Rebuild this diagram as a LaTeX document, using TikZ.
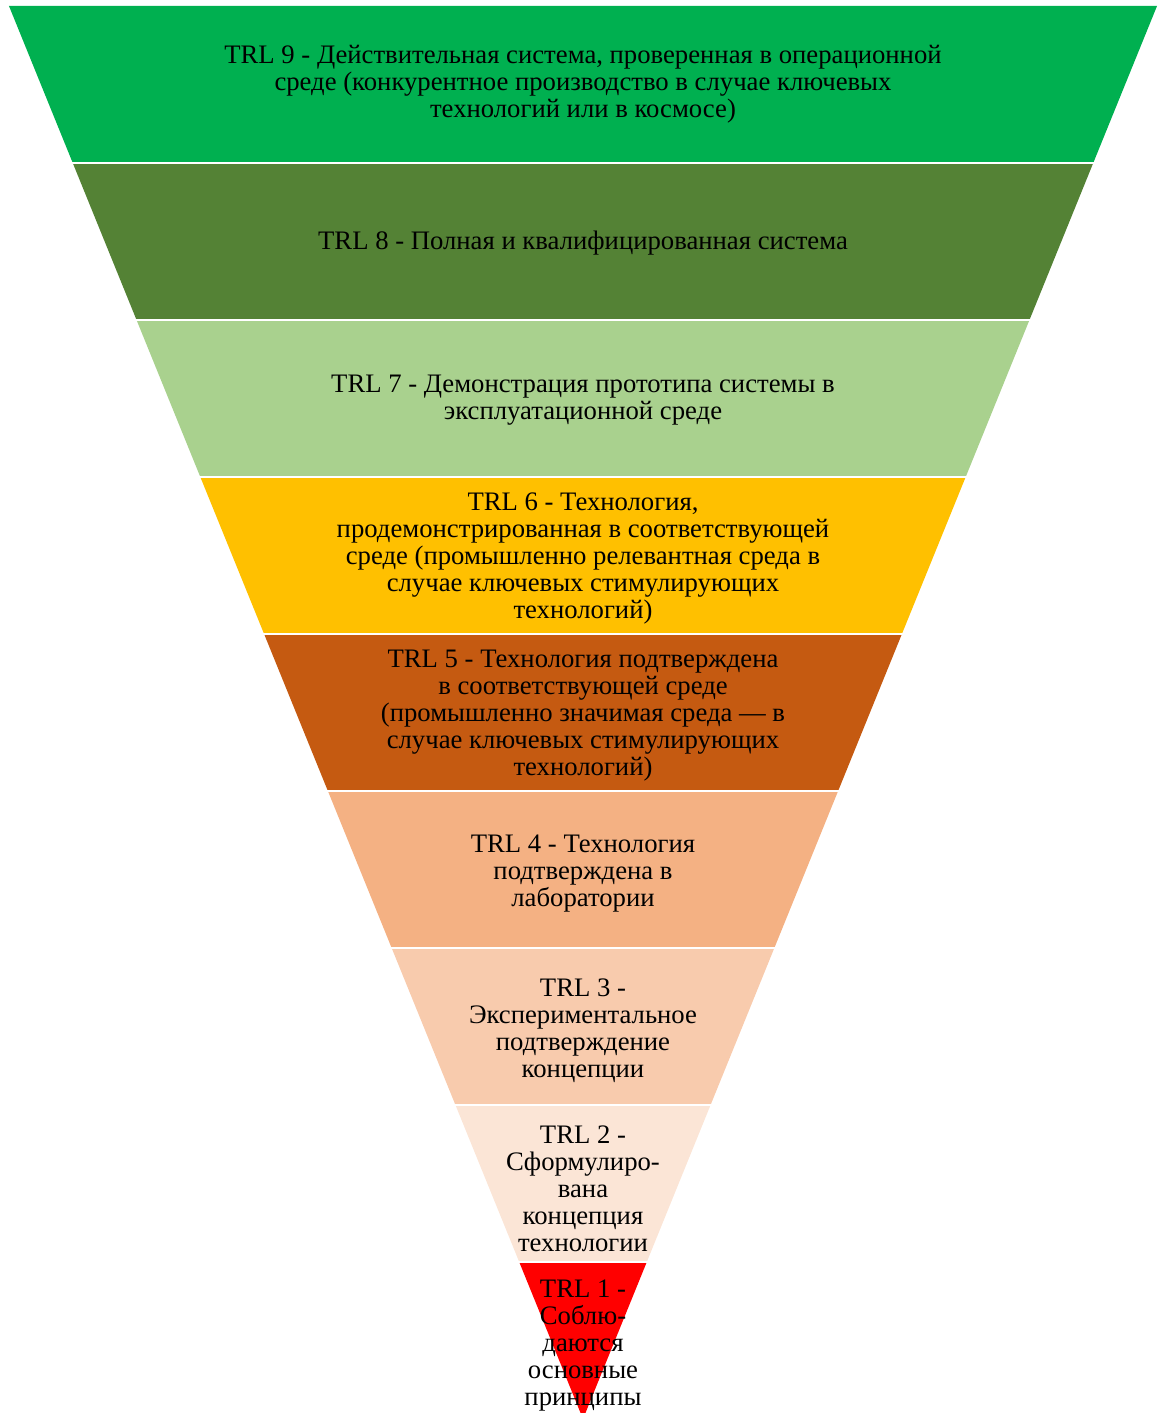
\documentclass[tikz,border=0pt]{standalone}
\usepackage{fontspec}
\setmainfont{Liberation Serif}
\usepackage{tikz}
\definecolor{trlnine}{HTML}{00B050}
\definecolor{trleight}{HTML}{548235}
\definecolor{trlseven}{HTML}{A9D18E}
\definecolor{trlsix}{HTML}{FFC000}
\definecolor{trlfive}{HTML}{C55A11}
\definecolor{trlfour}{HTML}{F4B183}
\definecolor{trlthree}{HTML}{F8CBAD}
\definecolor{trltwo}{HTML}{FBE5D6}
\definecolor{trlone}{HTML}{FF0000}

\begin{document}
\begin{tikzpicture}[
  x=1pt, y=-1pt,
  lbl/.style={align=center, inner sep=0pt, font=\fontsize{26.7}{27}\selectfont},
  gap/.style={draw=white, line width=2.5pt}
]
\useasboundingbox (0,0) rectangle (1162,1413);
% bands, top (TRL 9) to apex (TRL 1)
\foreach \c [count=\i from 0] in {trlnine,trleight,trlseven,trlsix,trlfive,trlfour,trlthree,trltwo,trlone} {
  \pgfmathsetmacro{\ya}{6+157*\i}
  \pgfmathsetmacro{\yb}{\ya+157}
  \fill[\c] ({583-(1419-\ya)*0.40623},\ya) -- ({583+(1419-\ya)*0.40623},\ya)
    -- ({583+(1419-\yb)*0.40623},\yb) -- ({583-(1419-\yb)*0.40623},\yb) -- cycle;
}
\foreach \i in {1,...,8}
  \draw[gap] (0,{6+157*\i}) -- (1162,{6+157*\i});

\node[lbl] (t9) at (583,84)
  {TRL 9 - Действительная система, проверенная в операционной\\
   среде (конкурентное производство в случае ключевых\\
   технологий или в космосе)};
\node[lbl] (t8) at (583,243.5) {TRL 8 - Полная и квалифицированная система};
\node[lbl] (t7) at (583,400.5)
  {TRL 7 - Демонстрация прототипа системы в\\эксплуатационной среде};
\node[lbl] (t6) at (583,558)
  {TRL 6 - Технология,\\продемонстрированная в соответствующей\\
   среде (промышленно релевантная среда в\\случае ключевых стимулирующих\\технологий)};
\node[lbl] (t5) at (583,716)
  {TRL 5 - Технология подтверждена\\в соответствующей среде\\
   (промышленно значимая среда — в\\случае ключевых стимулирующих\\технологий)};
\node[lbl] (t4) at (583,874)
  {TRL 4 - Технология\\подтверждена в\\лаборатории};
\node[lbl] (t3) at (583,1031)
  {TRL 3 -\\Экспериментальное\\подтверждение\\концепции};
\node[lbl] (t2) at (583,1188.5)
  {TRL 2 -\\Сформулиро-\\вана\\концепция\\технологии};
\node[lbl] (t1) at (583,1346)
  {TRL 1 -\\Соблю-\\даются\\основные\\принципы};
\end{tikzpicture}
\end{document}
